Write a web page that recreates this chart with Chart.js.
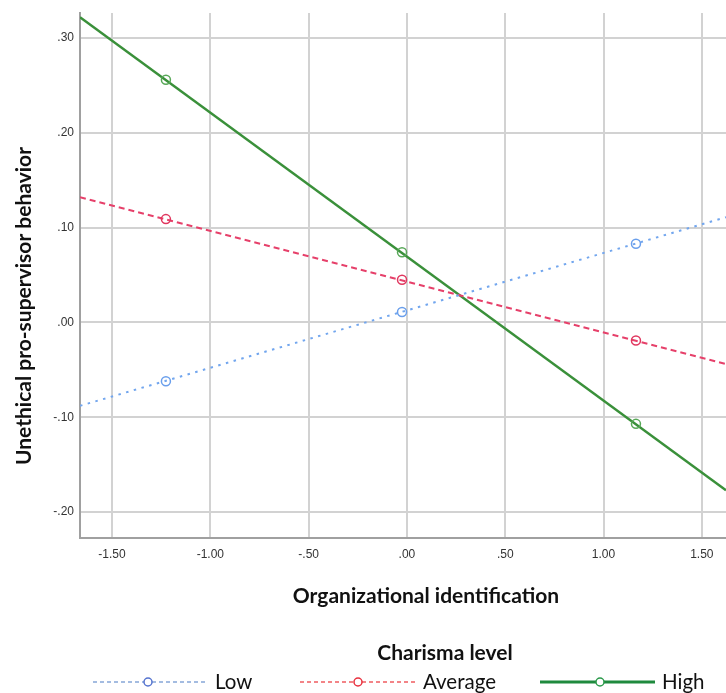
<!DOCTYPE html>
<html><head><meta charset="utf-8">
<script src="https://cdn.jsdelivr.net/npm/chart.js@4/dist/chart.umd.min.js"></script>
<style>html,body{margin:0;padding:0;background:#fff;overflow:hidden}#wrap{width:726px;height:693px;position:relative}</style>
</head><body><div id="wrap"><canvas id="c" width="726" height="693"></canvas></div>
<script>
// ---- data ----
const seriesNames = ['Low', 'Average', 'High'];
const pointX = [-1.226, -0.025, 1.165];
const lowValues = [-0.062, 0.011, 0.083];
const averageValues = [0.109, 0.045, -0.019];
const highValues = [0.256, 0.074, -0.107];
const xRange = [-1.663, 1.623];
const lowEnds = [-0.088, 0.111];
const averageEnds = [0.132, -0.044];
const highEnds = [0.322, -0.177];
const xTicks = [-1.5, -1, -0.5, 0, 0.5, 1, 1.5];
const yTicks = [-0.2, -0.1, 0, 0.1, 0.2, 0.3];
const yRange = [-0.2274, 0.3264];
const xTitle = 'Organizational identification';
const yTitle = 'Unethical pro-supervisor behavior';
const legendTitle = 'Charisma level';

// ---- styles ----
const styles = [
  {line: '#72a6ee', marker: '#6a9fec', dash: [2.5, 5.5], width: 2, lgLine: '#86a6d8', lgMarker: '#5573cf', lgDash: [4, 3], lgWidth: 1.5},
  {line: '#e6406a', marker: '#e0375f', dash: [6, 4], width: 2, lgLine: '#f05c60', lgMarker: '#e8303e', lgDash: [4, 3], lgWidth: 1.5},
  {line: '#3a903a', marker: '#58a858', dash: [], width: 2.5, lgLine: '#1f8a3e', lgMarker: '#2a9a4a', lgDash: [], lgWidth: 3}
];
const fmt = v => v.toFixed(2).replace(/^(-?)0\./, '$1.');

const valueSets = [lowValues, averageValues, highValues];
const endSets = [lowEnds, averageEnds, highEnds];
const datasets = [];
seriesNames.forEach((name, i) => {
  const s = styles[i];
  datasets.push({
    label: name + ' line', showLine: true,
    data: xRange.map((x, k) => ({x: x, y: endSets[i][k]})),
    borderColor: s.line, borderWidth: s.width, borderDash: s.dash,
    pointRadius: 0, fill: false, tension: 0, order: 2
  });
  datasets.push({
    label: name, showLine: false,
    data: pointX.map((x, k) => ({x: x, y: valueSets[i][k]})),
    pointRadius: 4.5, pointBorderWidth: 1.5, pointBorderColor: s.marker,
    pointBackgroundColor: 'rgba(255,255,255,0)', order: 1
  });
});

const legendItems = [
  {x1: 93, x2: 208, cx: 148, tx: 215},
  {x1: 300, x2: 415, cx: 358, tx: 423},
  {x1: 540, x2: 655, cx: 600, tx: 662}
];

const decor = {
  id: 'decor',
  afterDraw(chart) {
    const ctx = chart.ctx;
    ctx.save();
    ctx.fillStyle = '#111';
    ctx.textBaseline = 'middle';
    ctx.textAlign = 'center';
    ctx.font = 'bold 21px Lato';
    ctx.fillText(xTitle, 426, 596);
    ctx.save();
    ctx.translate(24, 306);
    ctx.rotate(-Math.PI / 2);
    ctx.fillText(yTitle, 0, 0);
    ctx.restore();
    ctx.fillText(legendTitle, 445, 653);
    ctx.font = '20.5px Lato';
    ctx.textAlign = 'left';
    legendItems.forEach((it, i) => {
      const s = styles[i];
      const y = 682;
      ctx.strokeStyle = s.lgLine;
      ctx.lineWidth = s.lgWidth;
      ctx.setLineDash(s.lgDash);
      ctx.beginPath(); ctx.moveTo(it.x1, y); ctx.lineTo(it.cx - 4, y); ctx.stroke();
      ctx.beginPath(); ctx.moveTo(it.cx + 4, y); ctx.lineTo(it.x2, y); ctx.stroke();
      ctx.setLineDash([]);
      ctx.strokeStyle = s.lgMarker; ctx.lineWidth = 1.5;
      ctx.beginPath(); ctx.arc(it.cx, y, 4, 0, Math.PI * 2); ctx.stroke();
      ctx.fillStyle = '#111';
      ctx.fillText(seriesNames[i], it.tx, y);
    });
    ctx.restore();
  }
};

new Chart(document.getElementById('c'), {
  type: 'scatter',
  data: {datasets: datasets},
  options: {
    responsive: false, animation: false, devicePixelRatio: 1,
    layout: {autoPadding: false, padding: {top: 13, right: 0, left: 0, bottom: 0}},
    plugins: {legend: {display: false}, tooltip: {enabled: false}},
    scales: {
      x: {
        type: 'linear', min: xRange[0], max: xRange[1],
        afterBuildTicks: sc => { sc.ticks = xTicks.map(v => ({value: v})); },
        afterFit: sc => { sc.height = 155; sc.paddingLeft = 0; sc.paddingRight = 0; },
        ticks: {callback: v => fmt(v), font: {family: 'Liberation Sans', size: 12}, color: '#333', padding: 9, maxRotation: 0, autoSkip: false},
        grid: {color: '#d2d2d2', lineWidth: 2, drawTicks: false},
        border: {display: true, color: '#a0a0a0', width: 2}
      },
      y: {
        type: 'linear', min: yRange[0], max: yRange[1],
        afterBuildTicks: sc => { sc.ticks = yTicks.map(v => ({value: v})); },
        afterFit: sc => { sc.width = 80; sc.paddingTop = 0; sc.paddingBottom = 0; },
        ticks: {callback: v => fmt(v), font: {family: 'Liberation Sans', size: 12}, color: '#333', padding: 6, autoSkip: false},
        grid: {color: '#d2d2d2', lineWidth: 2, drawTicks: false},
        border: {display: true, color: '#a0a0a0', width: 2}
      }
    }
  },
  plugins: [decor]
});
</script></body></html>
